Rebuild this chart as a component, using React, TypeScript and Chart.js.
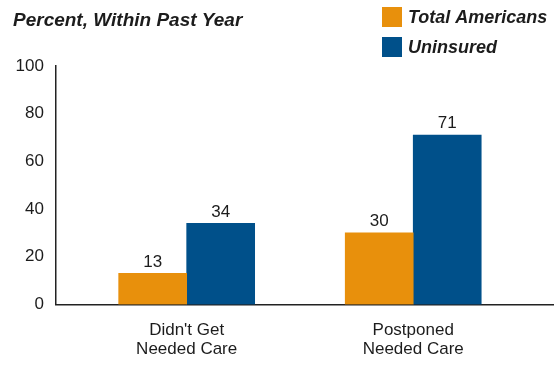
import React, { useEffect, useRef } from "react";
import { Chart, registerables } from "chart.js";

Chart.register(...registerables);

const categories: string[][] = [["Didn't Get", "Needed Care"], ["Postponed", "Needed Care"]];
const seriesNames = ["Total Americans", "Uninsured"];
const totalAmericans = [13, 30];
const uninsured = [34, 71];
const seriesColors = ["#E8900C", "#00508A"];
const yTicks = [0, 20, 40, 60, 80, 100];
const titleText = "Percent, Within Past Year";

const FONT = "'Liberation Sans', Arial, sans-serif";
const TEXT = "#1c1c1c";

const valueLabels = {
  id: "valueLabels",
  afterDatasetsDraw(chart: any) {
    const ctx = chart.ctx;
    ctx.save();
    ctx.font = `17px ${FONT}`;
    ctx.fillStyle = TEXT;
    ctx.textAlign = "center";
    ctx.textBaseline = "bottom";
    chart.data.datasets.forEach((ds: any, di: number) => {
      const meta = chart.getDatasetMeta(di);
      meta.data.forEach((el: any, i: number) => {
        ctx.fillText(String(ds.data[i].y), el.x, el.y - 3);
      });
    });
    ctx.restore();
  },
};

const headerAndLegend = {
  id: "headerAndLegend",
  afterDraw(chart: any) {
    const ctx = chart.ctx;
    ctx.save();
    // title
    ctx.font = `italic bold 19px ${FONT}`;
    ctx.fillStyle = TEXT;
    ctx.textAlign = "left";
    ctx.textBaseline = "middle";
    ctx.fillText(titleText, 13, 21);
    // legend
    const x0 = 382;
    const y0 = 7;
    const box = 20;
    const gap = 30;
    ctx.font = `italic bold 18px ${FONT}`;
    chart.data.datasets.forEach((ds: any, i: number) => {
      const y = y0 + i * gap;
      ctx.fillStyle = ds.backgroundColor;
      ctx.fillRect(x0, y, box, box);
      ctx.fillStyle = TEXT;
      ctx.fillText(ds.label, x0 + box + 6, y + box / 2 + 1);
    });
    ctx.restore();
  },
};

export default function App() {
  const ref = useRef<HTMLCanvasElement>(null);
  useEffect(() => {
    if (!ref.current) return;
    const chart = new Chart(ref.current, {
      type: "bar",
      data: {
        datasets: [
          {
            label: seriesNames[0],
            data: categories.map((_, i) => ({ x: i, y: totalAmericans[i] })),
            backgroundColor: seriesColors[0],
            barThickness: 68,
          },
          {
            label: seriesNames[1],
            data: categories.map((_, i) => ({ x: i, y: uninsured[i] })),
            backgroundColor: seriesColors[1],
            barThickness: 68,
          },
        ],
      } as any,
      options: {
        animation: false,
        responsive: false,
        maintainAspectRatio: false,
        layout: { padding: { left: 3.6, right: 2, top: 66, bottom: -10.5 } },
        plugins: {
          legend: { display: false },
          tooltip: { enabled: false },
          title: { display: false },
        },
        scales: {
          x: {
            type: "linear",
            offset: false,
            min: -0.577,
            max: 1.617,
            grid: { display: false, drawTicks: false, offset: false },
            border: { display: true, color: "#222", width: 1.5 },
            afterBuildTicks: (scale: any) => {
              scale.ticks = categories.map((_, i) => ({ value: i }));
            },
            ticks: {
              autoSkip: false,
              maxRotation: 0,
              padding: 16.5,
              color: TEXT,
              font: { family: FONT, size: 17, lineHeight: 1.12 },
              callback: (v: any) => categories[Math.round(Number(v))] ?? "",
            },
          },
          y: {
            min: 0,
            max: 100,
            grid: { display: false, drawTicks: false },
            border: { display: true, color: "#222", width: 1.5 },
            afterBuildTicks: (scale: any) => {
              scale.ticks = yTicks.map((v) => ({ value: v }));
            },
            ticks: {
              padding: 12,
              color: TEXT,
              font: { family: FONT, size: 17 },
            },
          },
        },
      } as any,
      plugins: [valueLabels, headerAndLegend],
    });
    return () => chart.destroy();
  }, []);
  return (
    <div style={{ position: "absolute", left: 0, top: 0, width: 555, height: 365, background: "#fff" }}>
      <canvas ref={ref} width={555} height={365} />
    </div>
  );
}
